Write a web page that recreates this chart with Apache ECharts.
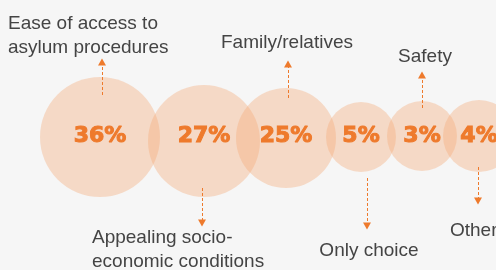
<!DOCTYPE html>
<html>
<head>
<meta charset="utf-8">
<script src="https://cdn.jsdelivr.net/npm/echarts@6/dist/echarts.min.js"></script>
<style>
  html, body { margin: 0; padding: 0; background: #f6f6f6; }
  #main { width: 496px; height: 270px; }
</style>
</head>
<body>
<div id="main"></div>
<script>
// data
var categories = ['Ease of access to\nasylum procedures', 'Appealing socio-\neconomic conditions',
                  'Family/relatives', 'Only choice', 'Safety', 'Other'];
var values = [36, 27, 25, 5, 3, 4];

// layout (pixels, the axes run 0..496 and 0..270)
var bubbleX = [100, 204, 286, 361, 422, 479];
var bubbleY = [137, 141, 138, 137, 136, 136];
var bubbleR = [60, 56, 50, 35, 35, 36];
var labelX = [8, 92, 287, 369, 425, 450];
var labelY = [36, 250, 43, 251, 57, 231];
var labelAlign = ['left', 'left', 'center', 'center', 'center', 'left'];
var arrowX = [102, 202, 288, 367, 422, 478];
var arrowFrom = [95, 188, 98, 178, 108, 167];
var arrowTo = [62, 223, 64, 226, 75, 201];

var orange = '#ee7a2c';

var bubbleData = values.map(function (v, i) {
    return {
        value: [bubbleX[i], bubbleY[i], v],
        symbolSize: bubbleR[i] * 2
    };
});

// percentages sit a little above some bubble centres
var pctData = values.map(function (v, i) {
    return { value: [bubbleX[i], 136, v] };
});

var labelData = categories.map(function (c, i) {
    return {
        value: [labelX[i], labelY[i]],
        name: c,
        label: { align: labelAlign[i] }
    };
});

var arrowData = arrowX.map(function (x, i) {
    return [{ coord: [x, arrowFrom[i]] }, { coord: [x, arrowTo[i]] }];
});

var myChart = echarts.init(document.getElementById('main'));

var option = {
    backgroundColor: '#f6f6f6',
    animation: false,
    grid: { left: 0, right: 0, top: 0, bottom: 0 },
    xAxis: { type: 'value', min: 0, max: 496, show: false },
    yAxis: { type: 'value', min: 0, max: 270, inverse: true, show: false },
    series: [
        {
            type: 'scatter',
            silent: true,
            data: bubbleData,
            itemStyle: { color: 'rgba(245,170,120,0.38)', opacity: 1 },
            markLine: {
                silent: true,
                symbol: ['none', 'triangle'],
                symbolSize: [8, 7],
                label: { show: false },
                lineStyle: { color: orange, type: [3, 2], width: 1, opacity: 1 },
                itemStyle: { opacity: 1 },
                data: arrowData
            }
        },
        {
            type: 'scatter',
            silent: true,
            symbolSize: 0,
            z: 5,
            itemStyle: { opacity: 1 },
            data: pctData,
            label: {
                show: true,
                position: 'inside',
                formatter: function (p) { return p.value[2] + '%'; },
                fontFamily: 'DejaVu Sans',
                fontWeight: 'bold',
                fontSize: 22,
                color: orange,
                textBorderColor: orange,
                textBorderWidth: 1
            }
        },
        {
            type: 'scatter',
            silent: true,
            symbolSize: 0,
            z: 5,
            itemStyle: { opacity: 1 },
            data: labelData,
            label: {
                show: true,
                position: 'inside',
                formatter: '{b}',
                fontFamily: 'Liberation Sans',
                fontSize: 19,
                lineHeight: 24,
                color: '#444444'
            }
        }
    ]
};

myChart.setOption(option);
</script>
</body>
</html>
